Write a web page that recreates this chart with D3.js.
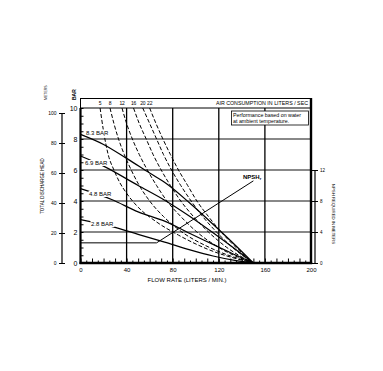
<!DOCTYPE html>
<html>
<head>
<meta charset="utf-8">
<script src="https://cdn.jsdelivr.net/npm/d3@7"></script>
<style>
  body { margin: 0; background: #fff; }
  text { font-family: "Liberation Sans", Arial, sans-serif; fill: #000; }
</style>
</head>
<body>
<script>
// pressure curves: [flow l/min, head bar]
var pressureLabels = ["8.3 BAR", "6.9 BAR", "4.8 BAR", "2.8 BAR"];
var p83 = [[0, 8.3], [20, 7.65], [40, 6.75], [60, 5.8], [75, 5.1], [95, 3.85], [115, 2.5], [135, 1.1], [150, 0]];
var p69 = [[0, 6.9], [20, 6.25], [50, 5.0], [73, 4.05], [95, 3.0], [115, 1.95], [135, 0.85], [150, 0]];
var p48 = [[0, 4.8], [27, 4.1], [50, 3.3], [73, 2.7], [95, 1.9], [115, 1.2], [135, 0.5], [150, 0]];
var p28 = [[0, 2.8], [30, 2.3], [50, 1.85], [73, 1.35], [95, 0.85], [115, 0.45], [135, 0.15], [150, 0]];

// air consumption curves (liters / sec)
var airLabels = ["5", "8", "12", "16", "20", "22"];
var a5 = [[17, 10], [20, 8.5], [24, 7], [29, 6], [34, 5.2], [40, 4.5], [50, 3.6], [65, 2.7], [85, 1.8], [110, 0.9], [150, 0]];
var a8 = [[25.6, 10], [29, 9], [33, 8], [38, 7], [44, 6], [51, 5], [60, 4], [72, 3], [88, 2], [112, 1], [150, 0]];
var a12 = [[36, 10], [40, 9], [45, 8], [51, 7], [58, 6], [66, 5], [75, 4], [87, 3], [101, 2], [120, 1], [150, 0]];
var a16 = [[46, 10], [51, 9], [57, 8], [63, 7], [70, 6], [78, 5], [87, 4], [98, 3], [111, 2], [127, 1], [150, 0]];
var a20 = [[54, 10], [60, 9], [66, 8], [72, 7], [79, 6], [87, 5], [96, 4], [106, 3], [118, 2], [132, 1], [150, 0]];
var a22 = [[60, 10], [65.5, 9], [71.5, 8], [78, 7], [85, 6], [93, 5], [101, 4], [111, 3], [122, 2], [135, 1], [150, 0]];

// npsh required: [flow, meters]
var npsh = [[0, 2.6], [66, 2.6], [150, 10.6]];

var flowTicks = [0, 40, 80, 120, 160, 200];
var barTicks = [0, 2, 4, 6, 8, 10];
var meterTicks = [0, 20, 40, 60, 80, 100];
var npshTicks = [0, 4, 8, 12];

var x = d3.scaleLinear().domain([0, 200]).range([80.5, 311]);
var y = d3.scaleLinear().domain([0, 10]).range([263, 108]);
var ym = d3.scaleLinear().domain([0, 100]).range([263, 113]);
var yn = d3.scaleLinear().domain([0, 12]).range([263, 170]);

var svg = d3.select('body').append('svg')
  .attr('width', 383)
  .attr('height', 371);

svg.append('rect').attr('width', 383).attr('height', 371).attr('fill', '#fff');

// grid
svg.append('g').selectAll('line')
  .data([2, 4, 6, 8])
  .enter().append('line')
  .attr('x1', x(0)).attr('x2', x(200))
  .attr('y1', function(d) { return y(d); })
  .attr('y2', function(d) { return y(d); })
  .attr('stroke', '#888')
  .attr('stroke-width', 1.8);

svg.append('g').selectAll('line')
  .data([40, 80, 120, 160])
  .enter().append('line')
  .attr('x1', function(d) { return x(d); })
  .attr('x2', function(d) { return x(d); })
  .attr('y1', y(0)).attr('y2', y(10))
  .attr('stroke', '#000')
  .attr('stroke-width', 1.3);

// top band for air consumption
svg.append('rect')
  .attr('x', x(0)).attr('y', 98.5)
  .attr('width', x(200) - x(0)).attr('height', y(10) - 98.5)
  .attr('fill', 'none').attr('stroke', '#000').attr('stroke-width', 1);

svg.append('text')
  .attr('x', 308).attr('y', 104.8)
  .attr('text-anchor', 'end')
  .style('font-size', '5.3px')
  .text('AIR CONSUMPTION IN LITERS / SEC');

var line = d3.line()
  .x(function(d) { return x(d[0]); })
  .y(function(d) { return y(d[1]); })
  .curve(d3.curveMonotoneX);

var airCurves = [a5, a8, a12, a16, a20, a22];
svg.append('g').selectAll('path')
  .data(airCurves)
  .enter().append('path')
  .attr('d', line)
  .attr('fill', 'none')
  .attr('stroke', '#000')
  .attr('stroke-width', 1)
  .attr('stroke-dasharray', '4,2');

svg.append('g').selectAll('text')
  .data(airCurves)
  .enter().append('text')
  .attr('x', function(d) { return x(d[0][0]); })
  .attr('y', 104.5)
  .attr('text-anchor', 'middle')
  .style('font-size', '5px')
  .style('letter-spacing', '-0.2px')
  .text(function(d, i) { return airLabels[i]; });

var pressCurves = [p83, p69, p48, p28];
svg.append('g').selectAll('path')
  .data(pressCurves)
  .enter().append('path')
  .attr('d', line)
  .attr('fill', 'none')
  .attr('stroke', '#000')
  .attr('stroke-width', 1.2);

// npsh curve
var npshLine = d3.line()
  .x(function(d) { return x(d[0]); })
  .y(function(d) { return yn(d[1]); });

svg.append('path')
  .attr('d', npshLine(npsh))
  .attr('fill', 'none')
  .attr('stroke', '#000')
  .attr('stroke-width', 1);

var nlab = svg.append('text')
  .attr('x', 243).attr('y', 178.5)
  .style('font-size', '6px')
  .style('font-weight', 'bold')
  .text('NPSH');
nlab.append('tspan').attr('dy', 1.5).style('font-size', '4px').text('r');

// pressure labels with white backing
var labelPos = [[86, 132.5], [85, 163], [89, 194], [91, 224]];
for (var i = 0; i < pressureLabels.length; i++) {
  var g = svg.append('g');
  var t = g.append('text')
    .attr('x', labelPos[i][0])
    .attr('y', labelPos[i][1] + 2)
    .style('font-size', '6px')
    .text(pressureLabels[i]);
  var bb = t.node().getBBox();
  g.insert('rect', 'text')
    .attr('x', bb.x - 0.5).attr('y', bb.y)
    .attr('width', bb.width + 1).attr('height', bb.height)
    .attr('fill', '#fff');
}

// info box
svg.append('rect')
  .attr('x', 231.5).attr('y', 111)
  .attr('width', 77).attr('height', 14)
  .attr('fill', '#fff').attr('stroke', '#000').attr('stroke-width', 0.8);
svg.append('text').attr('x', 233).attr('y', 117)
  .style('font-size', '5.3px').text('Performance based on water');
svg.append('text').attr('x', 233).attr('y', 123)
  .style('font-size', '5.3px').text('at ambient temperature.');

// bar axis, inner ticks
svg.append('g')
  .attr('transform', 'translate(' + x(0) + ',0)')
  .call(d3.axisRight(y).tickValues(d3.range(0, 10.01, 0.5)).tickSize(3).tickFormat(''))
  .call(function(g) { g.select('.domain').remove(); });

svg.append('g')
  .attr('transform', 'translate(' + (x(0) - 3) + ',0)')
  .call(d3.axisLeft(y).tickValues(barTicks).tickSize(0).tickPadding(0))
  .call(function(g) {
    g.select('.domain').remove();
    g.selectAll('text').style('font-size', '7px').style('font-family', '"Liberation Sans", Arial, sans-serif');
  });

// flow axis, inner ticks
svg.append('g')
  .attr('transform', 'translate(0,' + y(0) + ')')
  .call(d3.axisTop(x).tickValues(d3.range(0, 201, 5)).tickSize(3).tickFormat(''))
  .call(function(g) {
    g.select('.domain').remove();
    g.selectAll('line').attr('y2', function(d) { return d % 10 === 0 ? -4.5 : -2.5; });
  });

svg.append('g')
  .attr('transform', 'translate(0,' + (y(0) + 5) + ')')
  .call(d3.axisBottom(x).tickValues(flowTicks).tickSize(0).tickPadding(0))
  .call(function(g) {
    g.select('.domain').remove();
    g.selectAll('text').style('font-size', '6px').style('font-family', '"Liberation Sans", Arial, sans-serif');
  });

svg.append('text')
  .attr('x', 187).attr('y', 281.5)
  .attr('text-anchor', 'middle')
  .style('font-size', '6px')
  .text('FLOW RATE (LITERS / MIN.)');

// plot frame
svg.append('line').attr('x1', x(0)).attr('x2', x(0)).attr('y1', y(10)).attr('y2', y(0) + 1)
  .attr('stroke', '#000').attr('stroke-width', 2.2);
svg.append('line').attr('x1', x(0) - 1).attr('x2', x(200) + 1.2).attr('y1', y(0)).attr('y2', y(0))
  .attr('stroke', '#000').attr('stroke-width', 2.4);
svg.append('line').attr('x1', x(200)).attr('x2', x(200)).attr('y1', 98).attr('y2', y(0))
  .attr('stroke', '#000').attr('stroke-width', 2.4);

// meters axis
svg.append('g')
  .attr('transform', 'translate(62,0)')
  .call(d3.axisLeft(ym).tickValues(meterTicks).tickSize(4).tickPadding(1.5))
  .call(function(g) {
    g.select('.domain').attr('d', 'M0,' + ym(100) + 'V' + ym(0)).attr('stroke-width', 1.2);
    g.selectAll('line').attr('x1', 3).attr('x2', -3);
    g.selectAll('text').style('font-size', '5px').style('font-family', '"Liberation Sans", Arial, sans-serif');
  });

// npsh axis
svg.append('g')
  .attr('transform', 'translate(315,0)')
  .call(d3.axisRight(yn).tickValues(npshTicks).tickSize(3).tickPadding(2))
  .call(function(g) {
    g.select('.domain').attr('d', 'M0,' + yn(12) + 'V' + yn(0)).attr('stroke-width', 1.2);
    g.selectAll('line').attr('x1', -3).attr('x2', 3);
    g.selectAll('text').style('font-size', '4.5px').style('font-family', '"Liberation Sans", Arial, sans-serif');
  });

// rotated titles
svg.append('text')
  .attr('transform', 'translate(76,100) rotate(-90)')
  .style('font-size', '5px').style('font-weight', 'bold')
  .text('BAR');
svg.append('text')
  .attr('transform', 'translate(47,100) rotate(-90)')
  .style('font-size', '3.5px')
  .text('METERS');
svg.append('text')
  .attr('transform', 'translate(44,186) rotate(-90)')
  .attr('text-anchor', 'middle')
  .style('font-size', '4.5px')
  .text('TOTAL DISCHARGE HEAD');
svg.append('text')
  .attr('transform', 'translate(332,214) rotate(90)')
  .attr('text-anchor', 'middle')
  .style('font-size', '4.3px')
  .text('NPSH REQUIRED IN METERS');
</script>
</body>
</html>
